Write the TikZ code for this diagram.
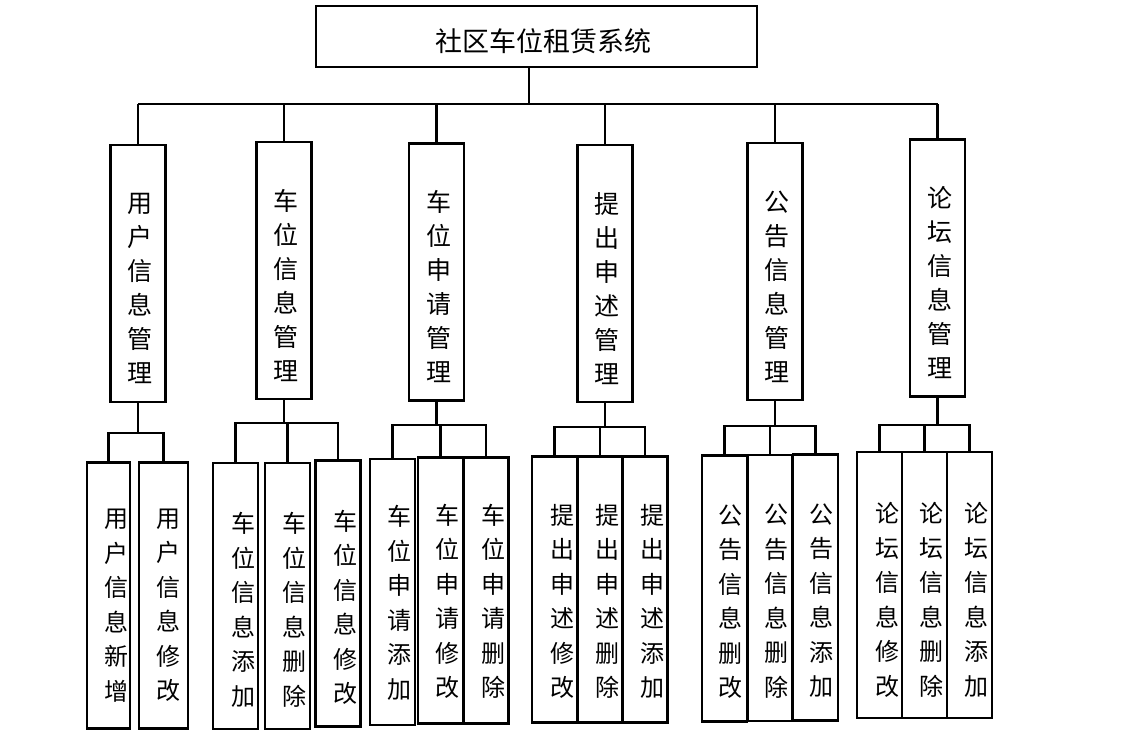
\documentclass[tikz,border=0pt]{standalone}
\usepackage{fontspec}
\newfontfamily\cjk{Noto Sans CJK SC}
\tikzset{
	box/.style = {
		draw=black,
		line width=2.3pt,
		inner sep=0pt
	},
	node_root/.style = {
		box,
		minimum width=441,
		minimum height=61
	},
	node_mid/.style = {
		box,
		minimum width=55,
		minimum height=257
	},
	node_leaf/.style = {
		box,
		minimum width=45,
		minimum height=266
	},
	text_root/.style = {
		inner sep=0pt,
		font=\cjk\fontsize{27}{27}\selectfont
	},
	text_mid/.style = {
		align=center,
		inner sep=0pt,
		font=\cjk\fontsize{25}{34}\selectfont
	},
	text_leaf/.style = {
		align=center,
		inner sep=0pt,
		font=\cjk\fontsize{24}{34.5}\selectfont
	},
	link/.style = {
		draw=black,
		line width=2.1pt
	}
}

\begin{document}
\begin{tikzpicture}[x=1pt, y=-1pt]
\useasboundingbox (0,0) rectangle (1131,731);

% top level
\node [node_root] (root) at (536.5,36.5) {};
\node [text_root] (title) at ([shift={(6.5,5)}]root.center) {社区车位租赁系统};
\coordinate (bus) at (529,104);

% modules
\node [node_mid] (m1) at (138,273.5) {};
\node [node_mid] (m2) at (284,270.5) {};
\node [node_mid] (m3) at (436.5,272) {};
\node [node_mid] (m4) at (605,273.5) {};
\node [node_mid] (m5) at (775,271.5) {};
\node [node_mid] (m6) at (937.5,268) {};
\node [text_mid] (t1) at ([shift={(2,15)}]m1.center) {用\\户\\信\\息\\管\\理};
\node [text_mid] (t2) at ([shift={(2,15)}]m2.center) {车\\位\\信\\息\\管\\理};
\node [text_mid] (t3) at ([shift={(2,15)}]m3.center) {车\\位\\申\\请\\管\\理};
\node [text_mid] (t4) at ([shift={(2,15)}]m4.center) {提\\出\\申\\述\\管\\理};
\node [text_mid] (t5) at ([shift={(2,15)}]m5.center) {公\\告\\信\\息\\管\\理};
\node [text_mid] (t6) at ([shift={(2,15)}]m6.center) {论\\坛\\信\\息\\管\\理};

% functions
\node [node_leaf, minimum width=43] (l11) at (108.5,595.5) {};
\node [node_leaf, minimum width=49] (l12) at (163.5,595.5) {};
\node [node_leaf] (l21) at (235.5,596) {};
\node [node_leaf] (l22) at (287.5,596) {};
\node [node_leaf] (l23) at (338,593.5) {};
\node [node_leaf] (l31) at (392.5,592) {};
\node [node_leaf] (l32) at (440.5,590.5) {};
\node [node_leaf] (l33) at (486,590.5) {};
\node [node_leaf] (l41) at (554.5,589.5) {};
\node [node_leaf] (l42) at (600,589.5) {};
\node [node_leaf] (l43) at (645,589.5) {};
\node [node_leaf] (l51) at (724.5,588.5) {};
\node [node_leaf] (l52) at (770,588) {};
\node [node_leaf] (l53) at (815.5,587.5) {};
\node [node_leaf] (l61) at (879.5,585) {};
\node [node_leaf] (l62) at (924.5,585) {};
\node [node_leaf] (l63) at (969.5,585) {};
\node [text_leaf] (s11) at ([shift={(8,10)}]l11.center) {用\\户\\信\\息\\新\\增};
\node [text_leaf] (s12) at ([shift={(5,10)}]l12.center) {用\\户\\信\\息\\修\\改};
\node [text_leaf] (s21) at ([shift={(8,14)}]l21.center) {车\\位\\信\\息\\添\\加};
\node [text_leaf] (s22) at ([shift={(7,14)}]l22.center) {车\\位\\信\\息\\删\\除};
\node [text_leaf] (s23) at ([shift={(7,14)}]l23.center) {车\\位\\信\\息\\修\\改};
\node [text_leaf] (s31) at ([shift={(7,11)}]l31.center) {车\\位\\申\\请\\添\\加};
\node [text_leaf] (s32) at ([shift={(7,11)}]l32.center) {车\\位\\申\\请\\修\\改};
\node [text_leaf] (s33) at ([shift={(7,11)}]l33.center) {车\\位\\申\\请\\删\\除};
\node [text_leaf] (s41) at ([shift={(8,12)}]l41.center) {提\\出\\申\\述\\修\\改};
\node [text_leaf] (s42) at ([shift={(7,12)}]l42.center) {提\\出\\申\\述\\删\\除};
\node [text_leaf] (s43) at ([shift={(7,12)}]l43.center) {提\\出\\申\\述\\添\\加};
\node [text_leaf] (s51) at ([shift={(6,13)}]l51.center) {公\\告\\信\\息\\删\\改};
\node [text_leaf] (s52) at ([shift={(6,13)}]l52.center) {公\\告\\信\\息\\删\\除};
\node [text_leaf] (s53) at ([shift={(6,13)}]l53.center) {公\\告\\信\\息\\添\\加};
\node [text_leaf] (s61) at ([shift={(8,15)}]l61.center) {论\\坛\\信\\息\\修\\改};
\node [text_leaf] (s62) at ([shift={(7,15)}]l62.center) {论\\坛\\信\\息\\删\\除};
\node [text_leaf] (s63) at ([shift={(7,15)}]l63.center) {论\\坛\\信\\息\\添\\加};

% connectors
\draw [link] (root.south -| bus) -- (bus);
\draw [link] (m1.north |- bus) -- (m6.north |- bus);
\foreach \m in {1,...,6}
	\draw [link] (m\m.north |- bus) -- (m\m.north);
\foreach \m/\d/\kids in {1/30/{1,2}, 2/23/{1,2,3}, 3/23/{1,2,3}, 4/24/{1,2,3}, 5/25/{1,2,3}, 6/27/{1,2,3}}
	\foreach \k in \kids
		\draw [link] (m\m.south) -- ++(0,\d) -| (l\m\k.north);
\end{tikzpicture}
\end{document}
